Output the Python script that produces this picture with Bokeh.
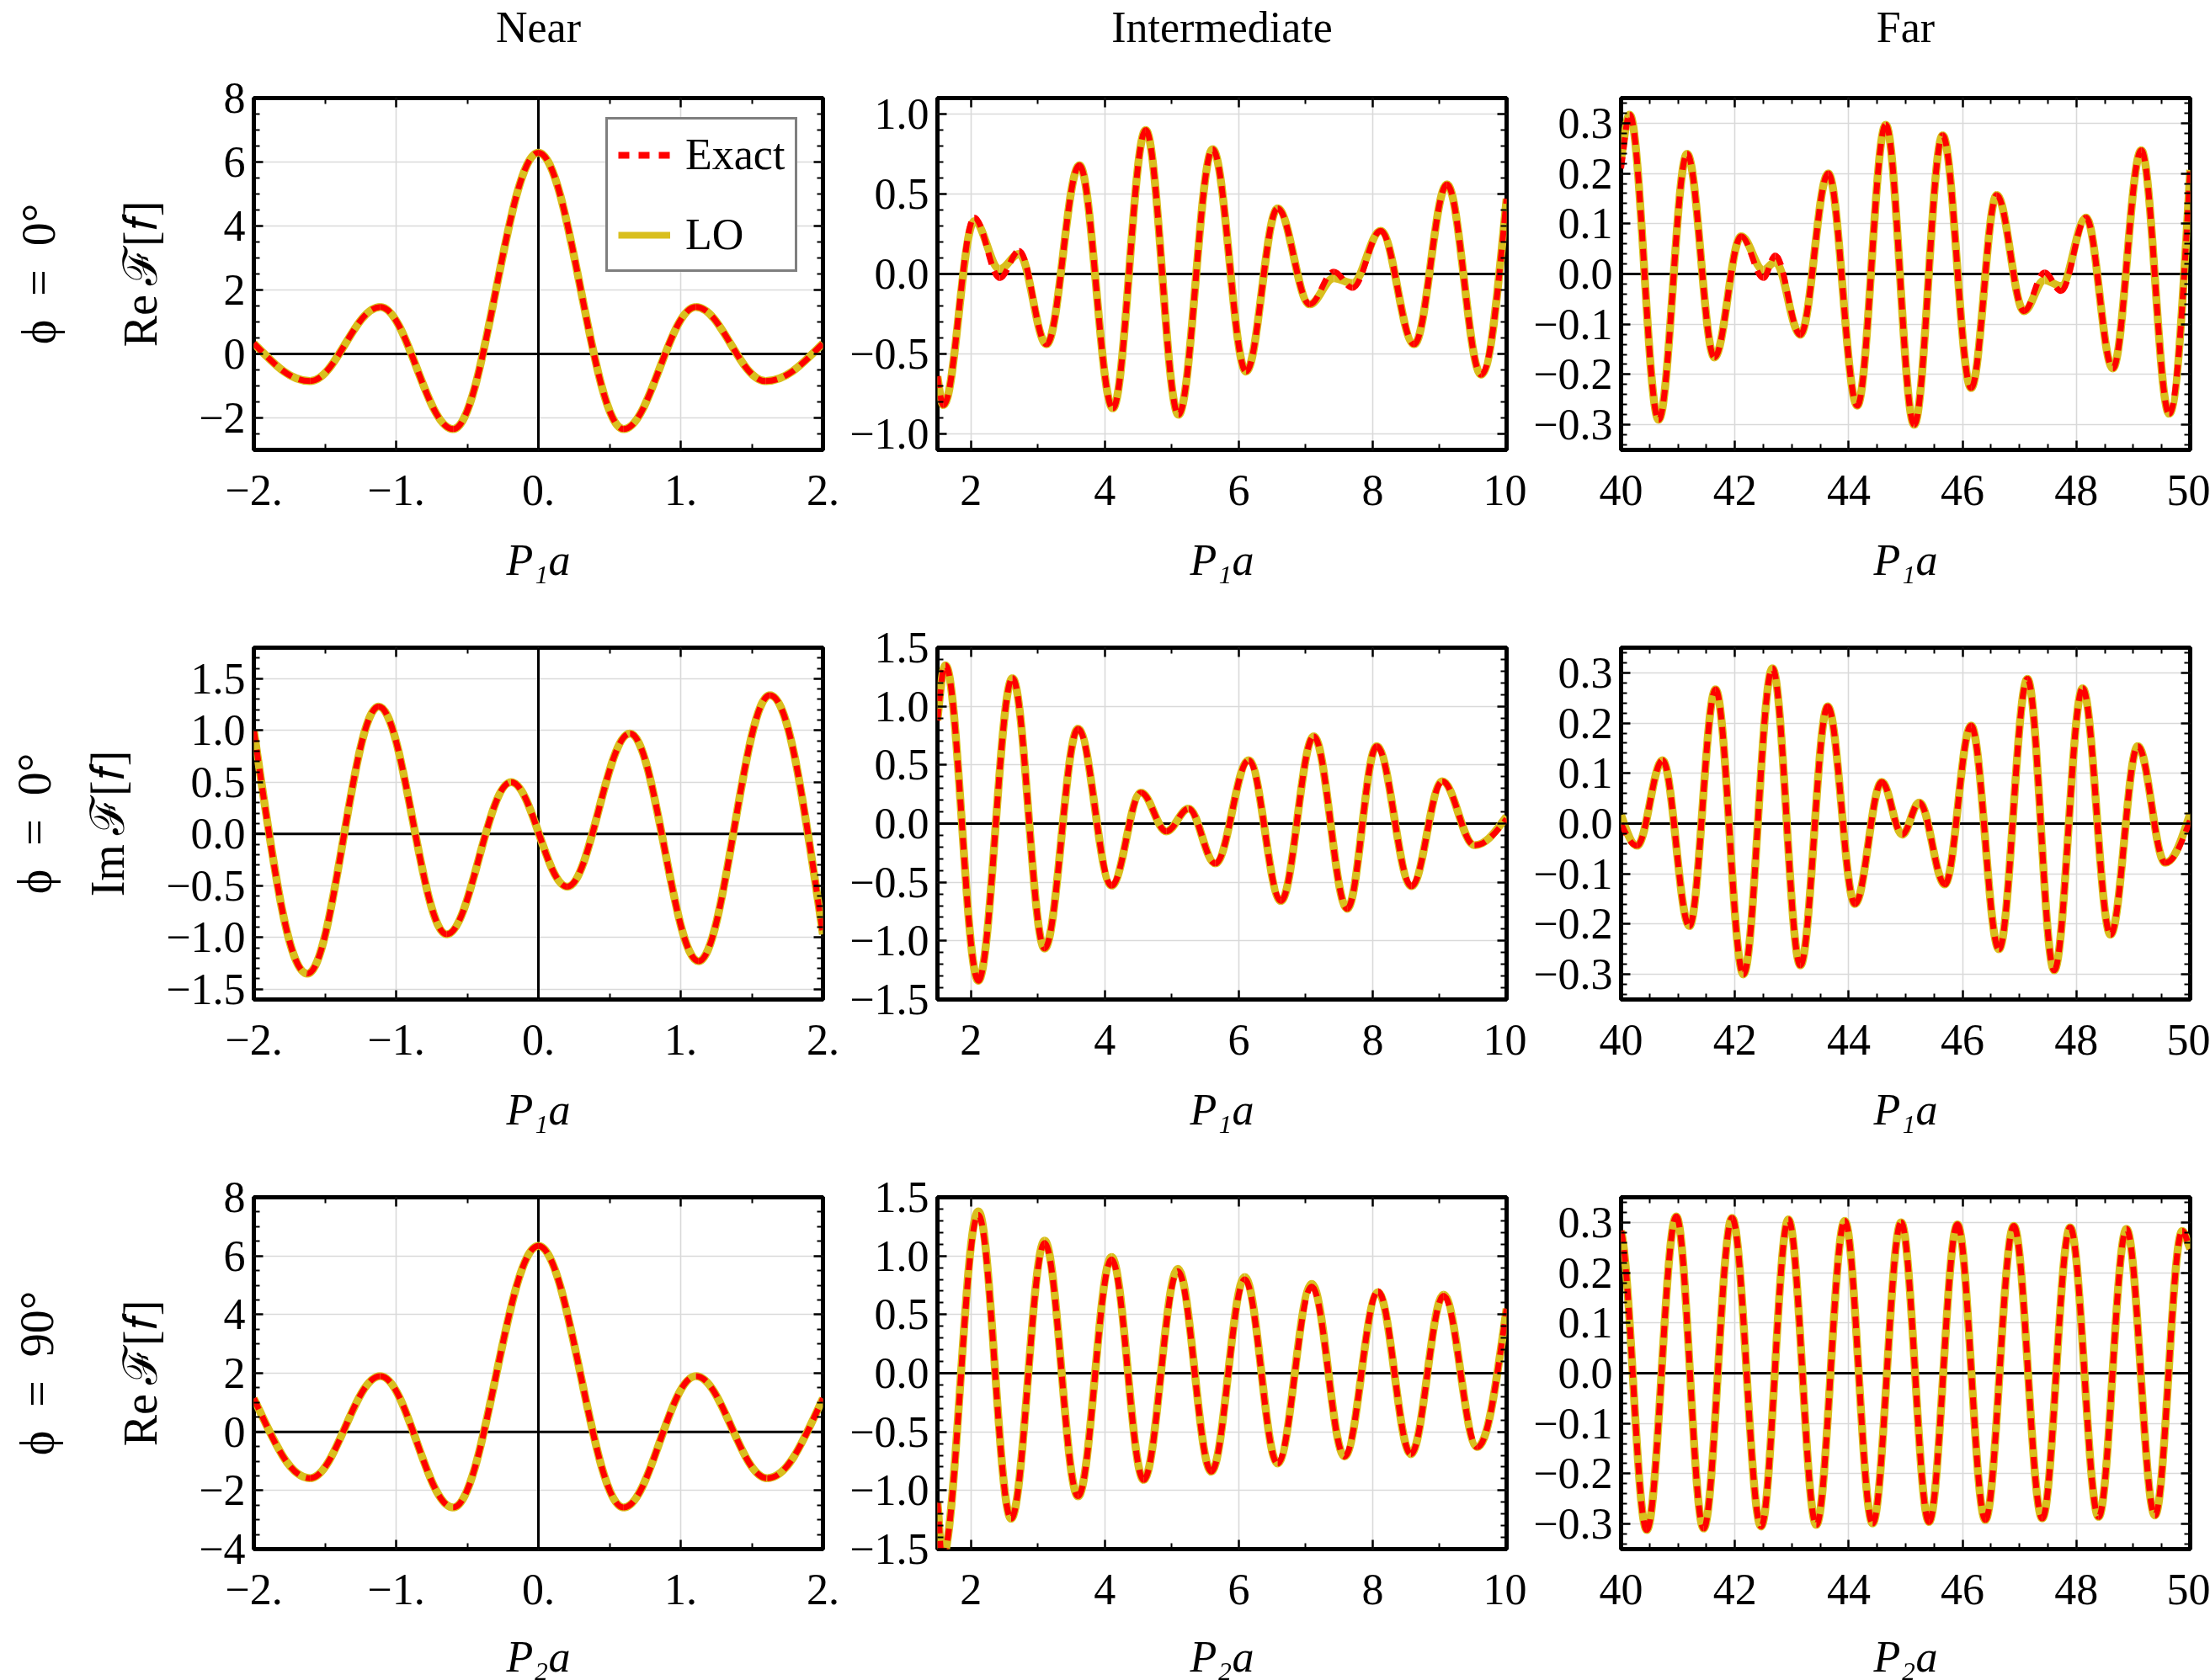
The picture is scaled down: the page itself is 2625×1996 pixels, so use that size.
import numpy as np
from bokeh.plotting import figure
from bokeh.models import (Range1d, FixedTicker, LinearAxis, Span, Legend,
                          LegendItem, ColumnDataSource)
from bokeh.layouts import gridplot
from bokeh.embed import file_html
from bokeh.resources import INLINE

FONT = "Liberation Serif"
RED = "#ff0000"
YEL = "#d9bf1e"
FS = "52px"
FS_ROW = "56px"

# ---------------- data (extrema / boundary points) -------------
# Row 1 : phi = 0, Re F[f]
near_re0_x = [-2.0, -1.605, -1.111, -0.599, 0.0, 0.599, 1.107, 1.597, 2.0]
near_re0_exact = [0.33, -0.85, 1.47, -2.35, 6.29, -2.35, 1.47, -0.85, 0.33]
near_re0_lo = [0.33, -0.85, 1.47, -2.35, 6.29, -2.35, 1.47, -0.85, 0.33]

mid_re0_x = [1.5, 1.59, 2.05, 2.43, 2.72, 3.13, 3.62, 4.12, 4.61, 5.10, 5.61, 6.11,
             6.58, 7.06, 7.42, 7.70, 8.12, 8.62, 9.11, 9.62, 10.0]
mid_re0_exact = [-0.64, -0.82, 0.353, -0.026, 0.145, -0.44, 0.68, -0.84, 0.90, -0.88,
                 0.78, -0.61, 0.41, -0.19, 0.014, -0.087, 0.27, -0.44, 0.56, -0.63, 0.47]
mid_re0_lo = [-0.64, -0.82, 0.33, 0.03, 0.125, -0.44, 0.68, -0.84, 0.90, -0.88,
              0.78, -0.61, 0.41, -0.19, -0.026, -0.057, 0.27, -0.44, 0.56, -0.63, 0.47]

far_re0_x = [40.0, 40.15, 40.66, 41.16, 41.64, 42.11, 42.50, 42.71, 43.15, 43.64, 44.15,
             44.65, 45.15, 45.65, 46.15, 46.60, 47.08, 47.44, 47.73, 48.17, 48.64, 49.14,
             49.63, 50.0]
far_re0_exact = [0.21, 0.317, -0.29, 0.239, -0.166, 0.075, -0.008, 0.037, -0.121, 0.20,
                 -0.262, 0.297, -0.30, 0.276, -0.227, 0.157, -0.074, 0.003, -0.034, 0.112,
                 -0.188, 0.246, -0.278, 0.207]
far_re0_lo = [0.23, 0.317, -0.29, 0.239, -0.166, 0.075, 0.008, 0.024, -0.121, 0.20,
              -0.262, 0.297, -0.30, 0.276, -0.227, 0.157, -0.074, -0.012, -0.024, 0.112,
              -0.188, 0.246, -0.278, 0.207]

# Row 2 : phi = 0, Im F[f]
near_im0_x = [-2.0, -1.623, -1.122, -0.644, -0.192, 0.203, 0.644, 1.126, 1.627, 2.0]
near_im0_exact = [1.0, -1.35, 1.23, -0.97, 0.50, -0.51, 0.97, -1.23, 1.34, -0.97]
near_im0_lo = [1.0, -1.35, 1.23, -0.97, 0.50, -0.51, 0.97, -1.23, 1.34, -0.97]

mid_im0_x = [1.5, 1.62, 2.11, 2.62, 3.10, 3.60, 4.10, 4.54, 4.92, 5.25, 5.65, 6.15,
             6.63, 7.12, 7.62, 8.06, 8.58, 9.04, 9.52, 10.0]
mid_im0_exact = [0.88, 1.35, -1.34, 1.24, -1.065, 0.81, -0.53, 0.264, -0.066, 0.127,
                 -0.34, 0.54, -0.66, 0.745, -0.726, 0.66, -0.534, 0.36, -0.184, 0.04]
mid_im0_lo = [0.88, 1.35, -1.34, 1.24, -1.065, 0.81, -0.53, 0.264, -0.066, 0.127,
              -0.34, 0.54, -0.66, 0.745, -0.726, 0.66, -0.534, 0.36, -0.184, 0.06]

far_im0_x = [40.0, 40.28, 40.73, 41.20, 41.66, 42.15, 42.66, 43.15, 43.63, 44.11, 44.58,
             44.94, 45.24, 45.69, 46.15, 46.64, 47.14, 47.61, 48.11, 48.60, 49.08, 49.56,
             50.0]
far_im0_exact = [0.0, -0.044, 0.126, -0.204, 0.267, -0.30, 0.309, -0.282, 0.233, -0.16,
                 0.083, -0.022, 0.042, -0.121, 0.195, -0.25, 0.288, -0.292, 0.269, -0.221,
                 0.154, -0.078, 0.007]
far_im0_lo = [0.017, -0.044, 0.126, -0.204, 0.267, -0.30, 0.309, -0.282, 0.233, -0.16,
              0.083, -0.022, 0.042, -0.121, 0.195, -0.25, 0.288, -0.292, 0.269, -0.221,
              0.154, -0.078, 0.02]

# Row 3 : phi = 90, Re F[f]
near_re90_x = [-2.0, -1.605, -1.111, -0.599, 0.0, 0.599, 1.107, 1.608, 2.0]
near_re90_exact = [1.14, -1.58, 1.90, -2.58, 6.34, -2.58, 1.90, -1.58, 1.14]
near_re90_lo = [1.14, -1.58, 1.90, -2.58, 6.34, -2.58, 1.90, -1.58, 1.14]

mid_re90_x = [1.5, 1.57, 2.11, 2.60, 3.10, 3.60, 4.10, 4.58, 5.09, 5.59, 6.09, 6.58,
              7.09, 7.58, 8.08, 8.57, 9.06, 9.56, 10.0]
mid_re90_exact = [-1.10, -1.58, 1.35, -1.24, 1.11, -1.05, 0.97, -0.91, 0.87, -0.84,
                  0.80, -0.77, 0.74, -0.71, 0.70, -0.69, 0.66, -0.63, 0.55]
mid_re90_lo = [-1.10, -1.58, 1.38, -1.24, 1.13, -1.05, 0.99, -0.91, 0.89, -0.84,
               0.82, -0.77, 0.76, -0.71, 0.69, -0.69, 0.67, -0.63, 0.55]

far_re90_x = [40.0, 40.45, 40.97, 41.45, 41.95, 42.46, 42.94, 43.43, 43.93, 44.42, 44.92,
              45.41, 45.91, 46.40, 46.90, 47.40, 47.89, 48.39, 48.88, 49.38, 49.86, 50.0]
far_re90_exact = [0.283, -0.312, 0.312, -0.309, 0.309, -0.305, 0.306, -0.302, 0.303,
                  -0.299, 0.30, -0.296, 0.296, -0.292, 0.293, -0.289, 0.29, -0.286, 0.287,
                  -0.283, 0.283, 0.248]
far_re90_lo = far_re90_exact

# ---------------- axis ticks ----------------
near_xticks = [-2, -1, 0, 1, 2]
near_xlabels = ["\u22122.", "\u22121.", "0.", "1.", "2."]
mid_xticks = [2, 4, 6, 8, 10]
mid_xlabels = ["2", "4", "6", "8", "10"]
far_xticks = [40, 42, 44, 46, 48, 50]
far_xlabels = ["40", "42", "44", "46", "48", "50"]

re_near_yticks = [-2, 0, 2, 4, 6, 8]
re_near_ylabels = ["\u22122", "0", "2", "4", "6", "8"]
re90_near_yticks = [-4, -2, 0, 2, 4, 6, 8]
re90_near_ylabels = ["\u22124", "\u22122", "0", "2", "4", "6", "8"]
y15_ticks = [-1.5, -1.0, -0.5, 0.0, 0.5, 1.0, 1.5]
y15_labels = ["\u22121.5", "\u22121.0", "\u22120.5", "0.0", "0.5", "1.0", "1.5"]
y10_ticks = [-1.0, -0.5, 0.0, 0.5, 1.0]
y10_labels = ["\u22121.0", "\u22120.5", "0.0", "0.5", "1.0"]
y03_ticks = [-0.3, -0.2, -0.1, 0.0, 0.1, 0.2, 0.3]
y03_labels = ["\u22120.3", "\u22120.2", "\u22120.1", "0.0", "0.1", "0.2", "0.3"]

col_titles = ["Near", "Intermediate", "Far"]
row_phi = ["\u03d5\u2002=\u20020\u00b0", "\u03d5\u2002=\u20020\u00b0", "\u03d5\u2002=\u200290\u00b0"]
row_quant = ["Re\u2009\u2131[\U0001D453]", "Im\u2009\u2131[\U0001D453]", "Re\u2009\u2131[\U0001D453]"]
x_names = ["P\u2081a", "P\u2081a", "P\u2082a"]
legend_labels = ["Exact", "LO"]


def minor_list(lo, hi, step, majors):
    n0 = int(np.ceil(lo / step - 1e-9))
    n1 = int(np.floor(hi / step + 1e-9))
    out = []
    for i in range(n0, n1 + 1):
        v = round(i * step, 6)
        if all(abs(v - m) > 1e-6 for m in majors):
            out.append(v)
    return out


def bez_source(xs, ys, s0=0.55, s1=0.55, k=0.3642):
    x = np.asarray(xs, float)
    y = np.asarray(ys, float)
    x0, x1, y0, y1 = x[:-1], x[1:], y[:-1], y[1:]
    dx = x1 - x0
    cx0 = x0 + k * dx
    cx1 = x1 - k * dx
    cy0 = y0.copy()
    cy1 = y1.copy()
    cy0[0] = y0[0] + s0 * (y1[0] - y0[0])
    cy1[-1] = y1[-1] - s1 * (y1[-1] - y0[-1])
    return ColumnDataSource(dict(x0=x0, y0=y0, x1=x1, y1=y1,
                                 cx0=cx0, cy0=cy0, cx1=cx1, cy1=cy1))


FW, FH = 676, 418
LEFT = [301, 112, 112]
RIGHT = [24, 24, 24]
TOP = [115, 60, 60]
BOTTOM = [175, 175, 156]

panels = [
    [dict(x=near_re0_x, ex=near_re0_exact, lo=near_re0_lo, xr=(-2, 2), yr=(-3, 8),
          xt=near_xticks, xl=near_xlabels, xm=0.5, yt=re_near_yticks, yl=re_near_ylabels, ym=0.5),
     dict(x=mid_re0_x, ex=mid_re0_exact, lo=mid_re0_lo, xr=(1.5, 10), yr=(-1.1, 1.1),
          xt=mid_xticks, xl=mid_xlabels, xm=1.0, yt=y10_ticks, yl=y10_labels, ym=0.1),
     dict(x=far_re0_x, ex=far_re0_exact, lo=far_re0_lo, xr=(40, 50), yr=(-0.35, 0.35),
          xt=far_xticks, xl=far_xlabels, xm=0.5, yt=y03_ticks, yl=y03_labels, ym=0.02, s0=0.4)],
    [dict(x=near_im0_x, ex=near_im0_exact, lo=near_im0_lo, xr=(-2, 2), yr=(-1.6, 1.8),
          xt=near_xticks, xl=near_xlabels, xm=0.5, yt=y15_ticks, yl=y15_labels, ym=0.1),
     dict(x=mid_im0_x, ex=mid_im0_exact, lo=mid_im0_lo, xr=(1.5, 10), yr=(-1.5, 1.5),
          xt=mid_xticks, xl=mid_xlabels, xm=1.0, yt=y15_ticks, yl=y15_labels, ym=0.1),
     dict(x=far_im0_x, ex=far_im0_exact, lo=far_im0_lo, xr=(40, 50), yr=(-0.35, 0.35),
          xt=far_xticks, xl=far_xlabels, xm=0.5, yt=y03_ticks, yl=y03_labels, ym=0.02)],
    [dict(x=near_re90_x, ex=near_re90_exact, lo=near_re90_lo, xr=(-2, 2), yr=(-4, 8),
          xt=near_xticks, xl=near_xlabels, xm=0.5, yt=re90_near_yticks, yl=re90_near_ylabels, ym=0.5),
     dict(x=mid_re90_x, ex=mid_re90_exact, lo=mid_re90_lo, xr=(1.5, 10), yr=(-1.5, 1.5),
          xt=mid_xticks, xl=mid_xlabels, xm=1.0, yt=y15_ticks, yl=y15_labels, ym=0.1, s0=0.3),
     dict(x=far_re90_x, ex=far_re90_exact, lo=far_re90_lo, xr=(40, 50), yr=(-0.35, 0.35),
          xt=far_xticks, xl=far_xlabels, xm=0.5, yt=y03_ticks, yl=y03_labels, ym=0.02,
          s0=0.12, s1=0.3)],
]

quant_standoff = [35, 35, 35]
phi_standoff = [57, 23, 59]
xlabel_standoff = [34, 34, 31]


def style_axis(ax, ticker, labels=None, show=True):
    ax.ticker = ticker
    ax.axis_line_color = None
    ax.major_tick_in = 11
    ax.major_tick_out = 0
    ax.minor_tick_in = 7
    ax.minor_tick_out = 0
    ax.major_tick_line_color = "black"
    ax.major_tick_line_width = 2.5
    ax.minor_tick_line_color = "black"
    ax.minor_tick_line_width = 2
    if show:
        ax.major_label_text_font = FONT
        ax.major_label_text_font_size = FS
        ax.major_label_text_color = "black"
        if labels is not None:
            ax.major_label_overrides = {t: l for t, l in zip(ticker.ticks, labels)}
    else:
        ax.major_label_text_font_size = "0px"
        ax.major_label_text_color = None
        ax.major_label_standoff = 0


def style_label(ax, text, standoff, italic=False, size=FS):
    ax.axis_label = text
    ax.axis_label_text_font = FONT
    ax.axis_label_text_font_size = size
    ax.axis_label_text_font_style = "italic" if italic else "normal"
    ax.axis_label_text_color = "black"
    ax.axis_label_standoff = standoff


rows = []
for r in range(3):
    row = []
    for c in range(3):
        d = panels[r][c]
        p = figure(frame_width=FW, frame_height=FH,
                   x_range=Range1d(*d["xr"]), y_range=Range1d(*d["yr"]),
                   output_backend="svg", toolbar_location=None,
                   min_border_left=LEFT[c], min_border_right=RIGHT[c],
                   min_border_top=TOP[r], min_border_bottom=BOTTOM[r],
                   x_axis_location="below", y_axis_location="left")
        p.background_fill_color = "white"
        p.border_fill_color = "white"
        p.outline_line_color = "black"
        p.outline_line_width = 5

        xmin = minor_list(d["xr"][0], d["xr"][1], d["xm"], d["xt"])
        ymin = minor_list(d["yr"][0], d["yr"][1], d["ym"], d["yt"])
        xt = FixedTicker(ticks=d["xt"], minor_ticks=xmin)
        yt = FixedTicker(ticks=d["yt"], minor_ticks=ymin)

        style_axis(p.xaxis[0], xt, d["xl"])
        p.xaxis[0].major_label_standoff = 30
        style_label(p.xaxis[0], x_names[r], xlabel_standoff[r], italic=True)
        style_axis(p.yaxis[0], yt, d["yl"])
        p.yaxis[0].major_label_standoff = 10
        if c == 0:
            style_label(p.yaxis[0], row_quant[r], quant_standoff[r], size=FS_ROW)
            # outer, tick-less axis that only carries the row label (phi)
            phi_ax = LinearAxis(ticker=FixedTicker(ticks=[]))
            phi_ax.axis_line_color = None
            phi_ax.major_tick_out = 0
            phi_ax.major_tick_in = 0
            phi_ax.minor_tick_out = 0
            phi_ax.minor_tick_in = 0
            phi_ax.major_label_standoff = 0
            phi_ax.major_label_text_color = None
            style_label(phi_ax, row_phi[r], phi_standoff[r], size=FS_ROW)
            p.add_layout(phi_ax, "left")

        top_ax = LinearAxis()
        style_axis(top_ax, FixedTicker(ticks=d["xt"], minor_ticks=xmin), show=False)
        if r == 0:
            style_label(top_ax, col_titles[c], 56)
        p.add_layout(top_ax, "above")
        right_ax = LinearAxis()
        style_axis(right_ax, FixedTicker(ticks=d["yt"], minor_ticks=ymin), show=False)
        p.add_layout(right_ax, "right")

        p.xgrid.ticker = FixedTicker(ticks=d["xt"])
        p.ygrid.ticker = FixedTicker(ticks=d["yt"])
        for g in (p.xgrid, p.ygrid):
            g.grid_line_color = "#d9d9d9"
            g.grid_line_width = 1.6

        p.add_layout(Span(location=0, dimension="width", line_color="black",
                          line_width=3, level="underlay"))
        if c == 0:
            p.add_layout(Span(location=0, dimension="height", line_color="black",
                              line_width=3, level="underlay"))

        s0 = d.get("s0", 0.55)
        s1 = d.get("s1", 0.55)
        p.bezier(x0="x0", y0="y0", x1="x1", y1="y1", cx0="cx0", cy0="cy0",
                 cx1="cx1", cy1="cy1", source=bez_source(d["x"], d["lo"], s0, s1),
                 line_color=YEL, line_width=9.5)
        p.bezier(x0="x0", y0="y0", x1="x1", y1="y1", cx0="cx0", cy0="cy0",
                 cx1="cx1", cy1="cy1", source=bez_source(d["x"], d["ex"], s0, s1),
                 line_color=RED, line_width=7, line_dash="14 9")

        if r == 0 and c == 0:
            r_ex = p.line(x=[np.nan], y=[np.nan], line_color=RED, line_width=8,
                          line_dash="13 11")
            r_lo = p.line(x=[np.nan], y=[np.nan], line_color=YEL, line_width=8)
            leg = Legend(items=[LegendItem(label=legend_labels[0], renderers=[r_ex]),
                                LegendItem(label=legend_labels[1], renderers=[r_lo])],
                         location=(418, 211), margin=0, padding=12, spacing=36,
                         glyph_width=62, glyph_height=56, label_height=56,
                         label_standoff=18, label_text_font=FONT,
                         label_text_font_size=FS, label_text_color="black",
                         border_line_color="black",
                         border_line_width=3.5, background_fill_color="white",
                         background_fill_alpha=1.0)
            p.add_layout(leg)
        row.append(p)
    rows.append(row)

grid = gridplot(rows, toolbar_location=None)
open("out.html", "w").write(file_html(grid, INLINE))
